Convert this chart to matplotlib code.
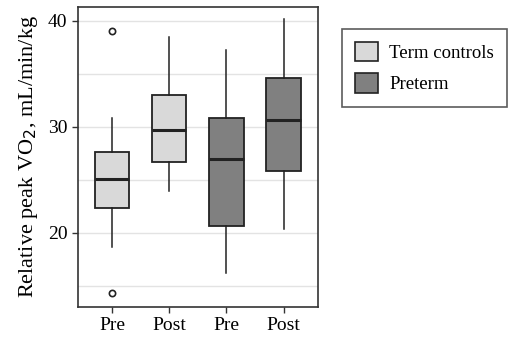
import matplotlib
matplotlib.use("Agg")
import matplotlib.pyplot as plt
from matplotlib.patches import Patch

plt.rcParams['font.family'] = ['Liberation Serif', 'DejaVu Serif']

# Box statistics
labels = ["Pre", "Post", "Pre", "Post"]
groups = ["Term controls", "Term controls", "Preterm", "Preterm"]
q1 = [22.3, 26.7, 20.6, 25.8]
med = [25.1, 29.7, 27.0, 30.6]
q3 = [27.6, 33.0, 30.85, 34.6]
whislo = [18.7, 23.9, 16.2, 20.4]
whishi = [30.85, 38.5, 37.2, 40.2]
fliers = [[39.0, 14.3], [], [], []]

group_colors = {"Term controls": "#d9d9d9", "Preterm": "#808080"}

stats = []
for i in range(len(labels)):
    stats.append(dict(q1=q1[i], med=med[i], q3=q3[i], whislo=whislo[i],
                      whishi=whishi[i], fliers=fliers[i], label=labels[i]))

fig = plt.figure(figsize=(5.16, 3.43), dpi=100)
ax = fig.add_axes([0.151, 0.105, 0.465, 0.875])

# grid lines (major + minor)
for y in [15, 20, 25, 30, 35, 40]:
    ax.axhline(y, color="#e3e3e3", lw=1.0, zorder=0)

bp = ax.bxp(stats, positions=range(4), widths=0.6, patch_artist=True,
            showcaps=False,
            boxprops=dict(edgecolor="#222222", linewidth=1.3),
            medianprops=dict(color="#222222", linewidth=2.2),
            whiskerprops=dict(color="#222222", linewidth=1.1),
            flierprops=dict(marker="o", markersize=4.5, markerfacecolor="white",
                            markeredgecolor="#222222", markeredgewidth=1.2))
for patch, g in zip(bp["boxes"], groups):
    patch.set_facecolor(group_colors[g])
    patch.set_zorder(2)

ax.set_xlim(-0.6, 3.6)
ax.set_ylim(13.0, 41.3)
ax.set_yticks([20, 30, 40])
ax.set_xticks(range(4))
ax.set_xticklabels(labels)
ax.tick_params(labelsize=14, color="#333333", length=4, width=1)
ax.set_ylabel("Relative peak VO$_2$, mL/min/kg", fontsize=16, labelpad=6)
for s in ax.spines.values():
    s.set_color("#333333")
    s.set_linewidth(1.2)

handles = [Patch(facecolor=group_colors[g], edgecolor="#222222", linewidth=1.2, label=g)
           for g in ["Term controls", "Preterm"]]
leg = fig.legend(handles=handles, loc="upper left", bbox_to_anchor=(0.663, 0.915),
                 fontsize=13.5, frameon=True, fancybox=False, edgecolor="#333333",
                 handlelength=1.2, handleheight=1.2, borderpad=0.7, labelspacing=0.6,
                 handletextpad=0.6, borderaxespad=0)
leg.get_frame().set_linewidth(1.2)

fig.savefig("out.png", dpi=100)
